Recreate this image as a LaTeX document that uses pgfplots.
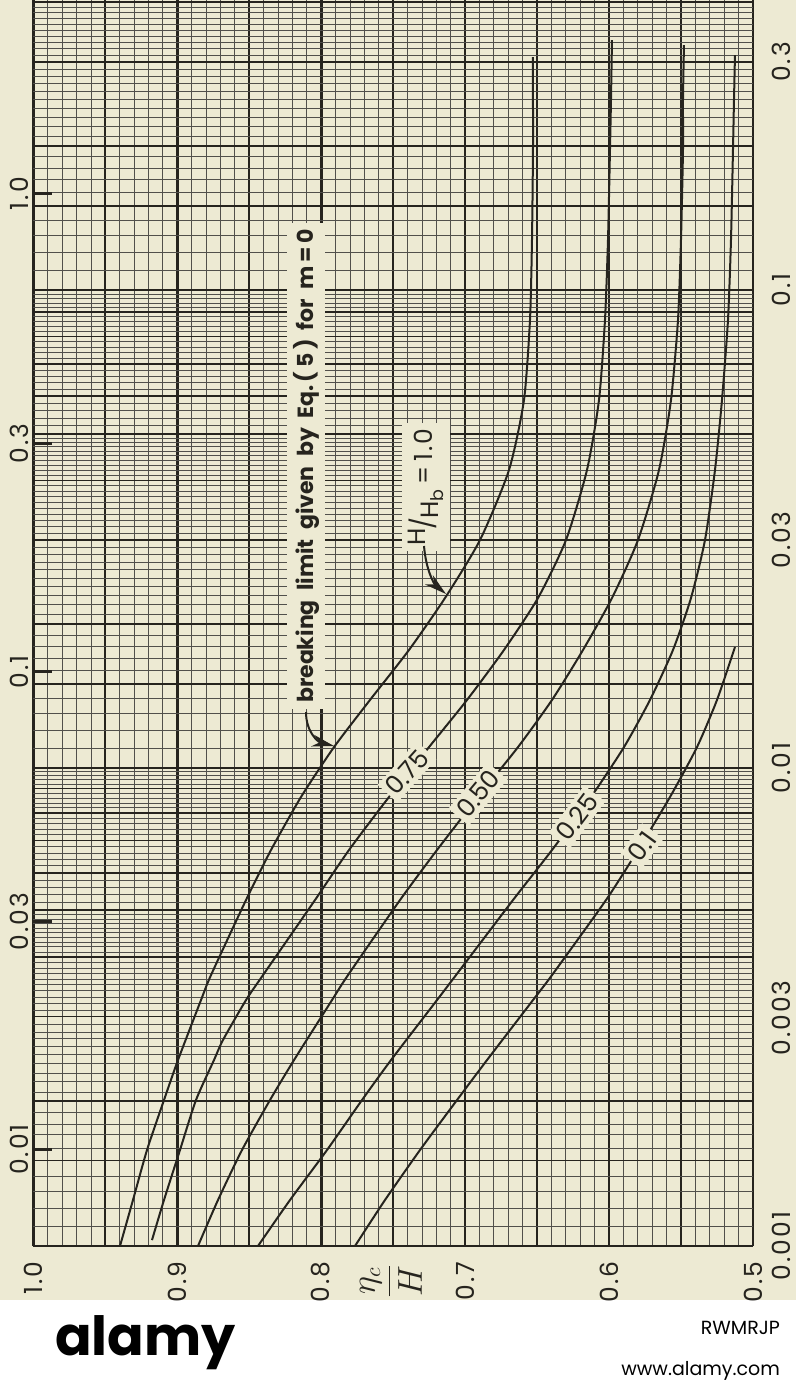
\documentclass[border=0pt]{standalone}
\usepackage{fontspec}
\usepackage{pgfplots}
\pgfplotsset{compat=1.18}
\usetikzlibrary{arrows.meta}
\setmainfont{Poppins}
\newfontfamily\lbl[LetterSpace=8]{Poppins}
\definecolor{paper}{RGB}{237,234,211}
\definecolor{ink}{RGB}{38,36,30}

\tikzset{
  gthin/.style={ink!80, line width=0.45pt},
  gmid/.style={ink, line width=0.8pt},
  ghalf/.style={ink, line width=1.05pt},
  gthick/.style={ink, line width=1.3pt},
  curve/.style={ink, line width=1.0pt, smooth, tension=0.4},
  ticklbl/.style={font=\lbl\fontsize{12.5}{14}\selectfont, inner sep=0pt, text=ink},
  curvelbl/.style={font=\fontsize{12.5}{14}\selectfont, text=ink, fill=paper, inner sep=2pt},
}

% one horizontal ruling at \yv with style \gs, if it lies on the sheet
\newcommand\gridh{%
  \pgfmathtruncatemacro\ok{\yv<=0.4043}%
  \ifnum\ok=1
    \edef\cmd{\noexpand\draw[\gs] (axis cs:0.5,\yv) -- (axis cs:1,\yv);}%
    \cmd
  \fi
}
% rulings of one logarithmic cycle starting at #1
\newcommand\decadelines[1]{%
  \pgfplotsforeachungrouped \k in {11,...,19}{%
    \pgfmathsetmacro\yv{#1*\k/10}%
    \ifnum\k=15 \def\gs{gmid}\else\def\gs{gthin}\fi
    \gridh
  }%
  \pgfplotsforeachungrouped \k in {20,...,49}{%
    \pgfmathsetmacro\yv{#1*\k/10}%
    \pgfmathtruncatemacro\mm{mod(\k,10)}%
    \ifnum\mm=0 \def\gs{gmid}\else\def\gs{gthin}\fi
    \gridh
  }%
  \pgfplotsforeachungrouped \k in {25,...,49}{%
    \pgfmathsetmacro\yv{#1*\k/5}%
    \pgfmathtruncatemacro\mm{mod(\k,5)}%
    \ifnum\mm=0 \def\gs{gmid}\else\def\gs{gthin}\fi
    \gridh
  }%
  \edef\cmd{\noexpand\draw[gthick] (axis cs:0.5,#1) -- (axis cs:1,#1);}%
  \cmd
}
% tick of the upper scale (d/L0 = 2 pi d/gT^2) on the left edge
\newcommand\upperscalemark[2]{%
  \draw[ink, line width=1.6pt] (axis cs:1,#1) -- (axis cs:0.9865,#1);
  \node[ticklbl, rotate=90] at ([xshift=-7pt]axis cs:1,#1) {#2};
}

\begin{document}
\begin{tikzpicture}
\useasboundingbox (0,0) rectangle (398pt,-695pt);
\fill[paper] (0,0) rectangle (398pt,-650pt);
\fill[white] (0,-650pt) rectangle (398pt,-695pt);

\begin{axis}[
  at={(16.5pt,-623pt)}, anchor=south west,
  width=360pt, height=623pt, scale only axis,
  x dir=reverse, xmin=0.5, xmax=1.0,
  ymode=log, ymin=0.001, ymax=0.4043,
  ticks=none, axis line style={draw=none},
  clip=false,
]
% rulings in eta_c/H
\pgfplotsforeachungrouped \k in {0,...,50}{%
  \pgfmathtruncatemacro\mten{mod(\k,10)}%
  \pgfmathtruncatemacro\mfive{mod(\k,5)}%
  \def\gs{gthin}%
  \ifnum\mfive=0 \def\gs{ghalf}\fi
  \ifnum\mten=0 \def\gs{gthick}\fi
  \pgfmathsetmacro\xv{0.5+0.01*\k}%
  \edef\cmd{\noexpand\draw[\gs] (axis cs:\xv,0.001) -- (axis cs:\xv,0.4043);}%
  \cmd
}
% logarithmic rulings
\decadelines{0.001}
\decadelines{0.01}
\decadelines{0.1}

% H/Hb = 1.0 (breaking limit)
\addplot[curve] coordinates {
(0.93958,0.001000) (0.93056,0.001248) (0.92083,0.001588) (0.90903,0.002020)
(0.89931,0.002449) (0.88333,0.003270) (0.87639,0.003688) (0.85208,0.005294)
(0.83472,0.006737) (0.81389,0.008696) (0.79097,0.01106) (0.76597,0.01388)
(0.73889,0.01766) (0.71389,0.02268) (0.68958,0.02999) (0.66944,0.04202)
(0.65903,0.05887) (0.65486,0.08655) (0.65347,0.1272) (0.65278,0.1963)
(0.65278,0.2497) (0.65278,0.3072)};
% H/Hb = 0.75
\addplot[curve] coordinates {
(0.91736,0.001029) (0.90903,0.001248) (0.89792,0.001588) (0.88681,0.002020)
(0.87431,0.002449) (0.86806,0.002698) (0.85208,0.003270) (0.84028,0.003688)
(0.80417,0.005294) (0.78056,0.006737) (0.75278,0.008696) (0.72500,0.01106)
(0.69861,0.01388) (0.67292,0.01766) (0.64931,0.02268) (0.62986,0.02999)
(0.61528,0.04202) (0.60694,0.05887) (0.60278,0.08655) (0.60069,0.1272)
(0.59931,0.1963) (0.59861,0.2497) (0.59792,0.3334)};
% H/Hb = 0.50
\addplot[curve] coordinates {
(0.88542,0.001000) (0.87153,0.001248) (0.85486,0.001588) (0.83542,0.002020)
(0.81875,0.002449) (0.79236,0.003270) (0.78125,0.003688) (0.74514,0.005294)
(0.71944,0.006737) (0.69097,0.008696) (0.66319,0.01106) (0.63958,0.01388)
(0.61806,0.01766) (0.59792,0.02268) (0.57986,0.02999) (0.56528,0.04202)
(0.55694,0.05887) (0.55208,0.08655) (0.55000,0.1272) (0.54861,0.1963)
(0.54861,0.2497) (0.54792,0.3255)};
% H/Hb = 0.25
\addplot[curve] coordinates {
(0.84375,0.001000) (0.82153,0.001248) (0.79583,0.001588) (0.77153,0.002020)
(0.75139,0.002449) (0.71944,0.003270) (0.70625,0.003688) (0.66667,0.005294)
(0.63958,0.006737) (0.61250,0.008696) (0.58958,0.01106) (0.57153,0.01388)
(0.55556,0.01766) (0.54306,0.02268) (0.53333,0.02999) (0.52639,0.04202)
(0.52153,0.05887) (0.51736,0.08655) (0.51528,0.1272) (0.51389,0.1963)
(0.51319,0.2497) (0.51250,0.3102)};
% H/Hb = 0.1
\addplot[curve] coordinates {
(0.77639,0.001000) (0.75556,0.001248) (0.73125,0.001588) (0.70556,0.002020)
(0.68472,0.002449) (0.65278,0.003270) (0.63958,0.003688) (0.60208,0.005294)
(0.57986,0.006737) (0.55764,0.008696) (0.53889,0.01106) (0.52500,0.01388)
(0.51250,0.01791)};

% lower scale, d/gT^2, along the right-hand edge
\pgfplotsinvokeforeach{0.3,0.1,0.03,0.01,0.003,0.001}{
  \node[ticklbl, rotate=90] at ([xshift=14pt]axis cs:0.5,#1) {#1};
}
% upper scale, d/L0
\upperscalemark{0.15915}{1.0}
\upperscalemark{0.047746}{0.3}
\upperscalemark{0.015915}{0.1}
\upperscalemark{0.0047746}{0.03}
\upperscalemark{0.0015915}{0.01}
% eta_c/H along the foot
\pgfplotsinvokeforeach{1.0,0.9,0.8,0.7,0.6,0.5}{
  \node[ticklbl, rotate=90, anchor=east] at ([yshift=-7.5pt]axis cs:#1,0.001) {#1};
}
\end{axis}

% lettering, in sheet units (x right, y down)
\begin{scope}[x=0.5pt,y=-0.5pt]
  \node[rotate=90, text=ink, font=\fontsize{16}{18}\selectfont] at (391,1281)
    {$\displaystyle\frac{\eta_c}{H}$};
  % curve labels
  \node[curvelbl, rotate=48] at (407,772) {0.75};
  \node[curvelbl, rotate=50] at (478,794) {0.50};
  \node[curvelbl, rotate=53] at (577,817) {0.25};
  \node[curvelbl, rotate=54] at (642,846) {0.1};
  \node[ticklbl, rotate=90, fill=paper, inner sep=3pt] at (426,487)
    {\raisebox{0.5ex}{H}\kern-0.05em/\kern-0.05em\raisebox{-0.45ex}{H\textsubscript{b}}\,=\,1.0};
  \draw[ink, line width=1pt, -{Stealth[length=11pt,width=6pt]}]
    (424,546) .. controls (426,570) and (434,584) .. (446,594);
  \node[rotate=90, fill=paper, inner sep=3pt, text=ink,
        font=\bfseries\fontsize{11}{13}\selectfont] at (306,466)
    {breaking\ \ limit\ \ given\ \ by\ \ Eq.\,(\,5\,)\ \ for\ \ m\,=\,0};
  \draw[ink, line width=1pt, -{Stealth[length=11pt,width=6pt]}]
    (306,712) .. controls (306,732) and (318,742) .. (334,746);
  % footer strip
  \node[anchor=west, font=\bfseries\fontsize{27}{30}\selectfont] at (48,1343) {alamy};
  \node[anchor=east, font=\fontsize{9.5}{11}\selectfont] at (787,1328) {RWMRJP};
  \node[anchor=east, font=\fontsize{9.5}{11}\selectfont] at (787,1371) {www.alamy.com};
\end{scope}
\end{tikzpicture}
\end{document}
